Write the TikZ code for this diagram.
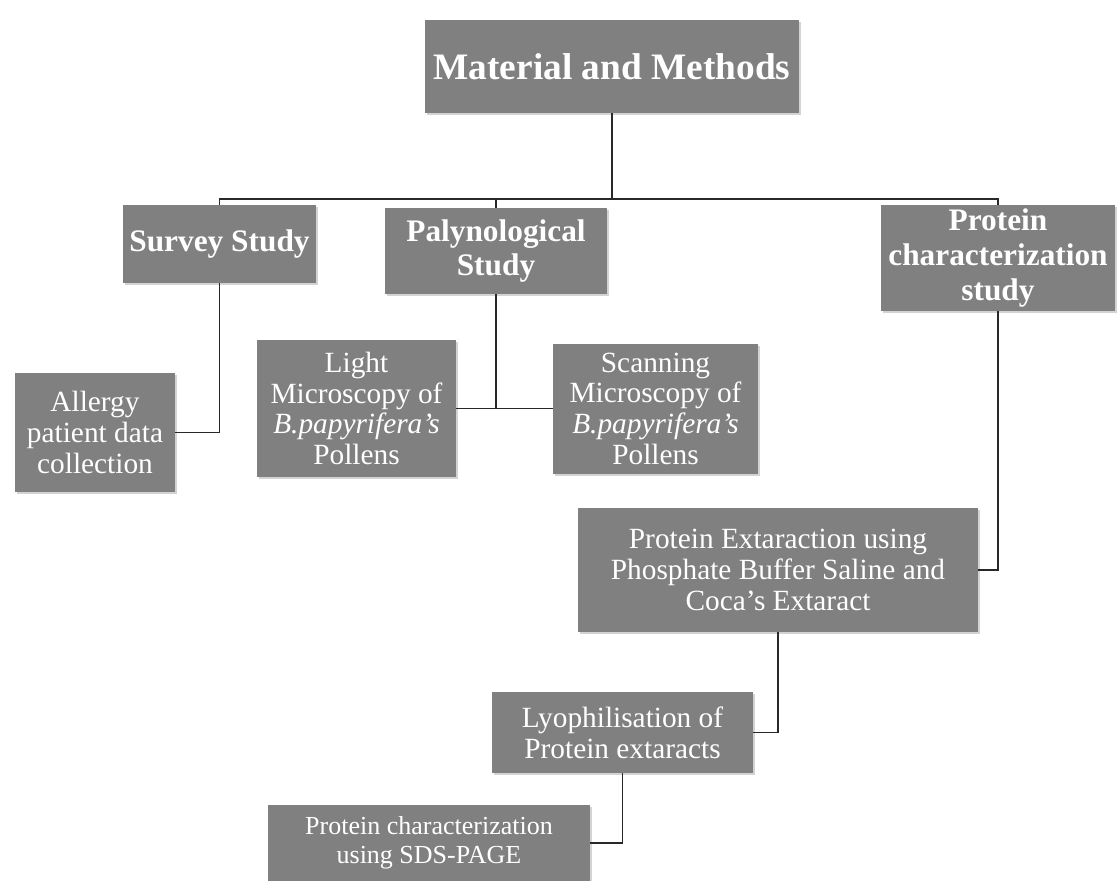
\documentclass[tikz,border=0pt]{standalone}
\usepackage{fontspec}
\setmainfont{Liberation Serif}
\usetikzlibrary{shadows}
\definecolor{BoxGray}{RGB}{128,128,128}
\definecolor{LineGray}{RGB}{40,40,40}

\begin{document}
\begin{tikzpicture}[
    x=0.75pt, y=-0.75pt,
    box/.style={rectangle, fill=BoxGray, text=white, align=center, inner sep=2pt, font=\fontsize{22}{23}\selectfont, drop shadow={shadow xshift=1.5pt, shadow yshift=-1.5pt, opacity=0.35}},
    mainbox/.style={box, font=\fontsize{23.5}{26}\selectfont\bfseries},
    link/.style={draw=LineGray, line width=1.2pt}
]
\useasboundingbox (0,0) rectangle (1118,881);

% === TOP ===
\node[mainbox, font=\fontsize{28}{32}\selectfont\bfseries, minimum width=281pt, minimum height=70pt] (methods) at (612,66.5) {Material and Methods};

% === STUDIES ===
\node[mainbox, minimum width=145pt, minimum height=58.5pt] (survey) at (219.5,244) {Survey Study};
\node[mainbox, minimum width=166.5pt, minimum height=64.5pt] (palyno) at (496,251) {Palynological\\ Study};
\node[mainbox, minimum width=175.5pt, minimum height=79.5pt] (protchar) at (998,258) {Protein\\ characterization\\ study};

% === SUB STEPS ===
\node[box, minimum width=120pt, minimum height=89pt] (allergy) at (95,432.5) {Allergy\\ patient data\\ collection};
\node[box, minimum width=149pt, minimum height=103pt] (light) at (356.5,408.5) {Light\\ Microscopy of\\ \textit{B.papyrifera's}\\ Pollens};
\node[box, minimum width=154pt, minimum height=97.5pt] (scanning) at (655.5,408.5) {Scanning\\ Microscopy of\\ \textit{B.papyrifera's}\\ Pollens};
\node[box, minimum width=300pt, minimum height=93pt] (extraction) at (778,570) {Protein Extaraction using\\ Phosphate Buffer Saline and\\ Coca's Extaract};
\node[box, minimum width=196pt, minimum height=61pt] (lyophil) at (622.5,732.5) {Lyophilisation of\\ Protein extaracts};
\node[box, font=\fontsize{19.5}{22}\selectfont, minimum width=241.5pt, minimum height=57pt] (sds) at (429,843) {Protein characterization\\ using SDS-PAGE};

% === CONNECTORS ===
\coordinate (split) at (612,199);
\draw[link] (methods.south) -- (split);
\draw[link] (survey.north) |- (split) -| (protchar.north);
\draw[link] (split) -| (palyno.north);
\draw[link] (survey.south) |- (allergy.east);
\draw[link] (light.east) -- (scanning.west);
\draw[link] (palyno.south) -- (palyno.south |- light.east);
\draw[link] (protchar.south) |- (extraction.east);
\draw[link] (extraction.south) |- (lyophil.east);
\draw[link] (lyophil.south) |- (sds.east);

\end{tikzpicture}
\end{document}
